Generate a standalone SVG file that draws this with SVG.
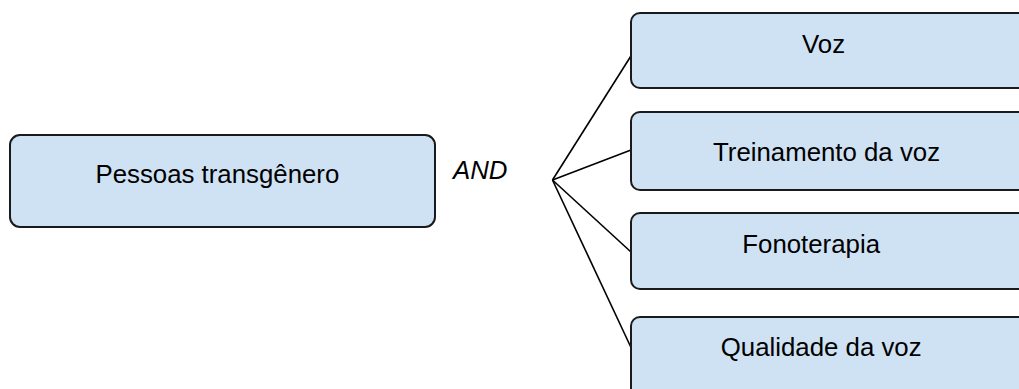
<svg xmlns="http://www.w3.org/2000/svg" width="1019" height="389" viewBox="0 0 1019 389">
  <style>
    .box { fill: #cfe2f3; stroke: #1a1a1a; stroke-width: 2; }
    .lbl { font-family: "Liberation Sans", Arial, sans-serif; font-size: 25.8px; fill: #000; }
    .op { font-family: "Liberation Sans", Arial, sans-serif; font-size: 25.8px; font-style: italic; fill: #000; }
    .link { stroke: #000; stroke-width: 1.6; fill: none; }
  </style>
  <rect width="1019" height="389" fill="#fff"/>

  <!-- connectors fanning out from the AND junction -->
  <g id="connectors">
    <line class="link" x1="552.5" y1="180" x2="636" y2="48"/>
    <line class="link" x1="552.5" y1="180" x2="631" y2="150"/>
    <line class="link" x1="552.5" y1="180" x2="631" y2="252"/>
    <line class="link" x1="552.5" y1="180" x2="635" y2="356"/>
  </g>

  <g id="node-pessoas">
    <rect class="box" x="10" y="135" width="425" height="92" rx="10"/>
    <text class="lbl" x="95.5" y="183">Pessoas transgênero</text>
  </g>

  <text id="op-and" class="op" x="453" y="179">AND</text>

  <g id="node-voz">
    <rect class="box" x="631" y="13" width="420" height="75" rx="9"/>
    <text class="lbl" x="802" y="52.5">Voz</text>
  </g>

  <g id="node-treinamento">
    <rect class="box" x="631" y="112" width="420" height="78" rx="9"/>
    <text class="lbl" x="713" y="160.5">Treinamento da voz</text>
  </g>

  <g id="node-fonoterapia">
    <rect class="box" x="631" y="213" width="420" height="76" rx="9"/>
    <text class="lbl" x="742.3" y="252.5">Fonoterapia</text>
  </g>

  <g id="node-qualidade">
    <rect class="box" x="631" y="317" width="420" height="90" rx="9"/>
    <text class="lbl" x="720.8" y="356">Qualidade da voz</text>
  </g>
</svg>
